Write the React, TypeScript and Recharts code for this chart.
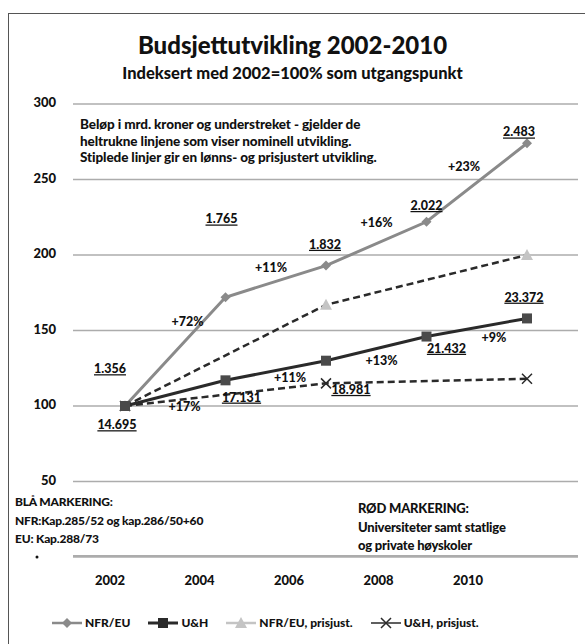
import { CartesianGrid, LabelList, Line, LineChart, XAxis, YAxis } from 'recharts'

const YEARS = ['2002', '2004', '2006', '2008', '2010']
const NFR_EU = [100, 172, 193, 222, 274]
const UH = [100, 117, 130, 146, 158]
const NFR_EU_PRIS = [100, null, 167, null, 200]
const UH_PRIS = [100, null, 115, null, 118]
const NFR_EU_MRD = ['1.356', '1.765', '1.832', '2.022', '2.483']
const UH_MRD = ['14.695', '17.131', '18.981', '21.432', '23.372']
const NFR_EU_GROWTH = ['', '+72%', '+11%', '+16%', '+23%']
const UH_GROWTH = ['', '+17%', '+11%', '+13%', '+9%']
const Y_TICKS = [0, 50, 100, 150, 200, 250, 300]

const data = YEARS.map((year, i) => ({
  year,
  nfr: NFR_EU[i],
  uh: UH[i],
  nfrPris: NFR_EU_PRIS[i],
  uhPris: UH_PRIS[i],
  nfrMrd: NFR_EU_MRD[i],
  uhMrd: UH_MRD[i],
  nfrGrowth: NFR_EU_GROWTH[i],
  uhGrowth: UH_GROWTH[i],
}))

const FONT = 'Lato, "Open Sans", sans-serif'
const GREY = '#8a8a8a'
const DARK = '#2a2a2a'
const LIGHT = '#c4c4c4'
const GRID = '#acacac'

// label offsets from each point (styling only)
const NFR_MRD_OFF = [[-15, -36], [-4, -77], [-1, -20], [0, -15], [-8, -10]]
const NFR_PCT_OFF = [[0, 0], [-38, 26], [-55, 3], [-50, 2], [-63, 25]]
const UH_MRD_OFF = [[-8, 20], [16, 18], [25, 30], [20, 13], [-3, -20]]
const UH_PCT_OFF = [[0, 0], [-41, 27], [-36, 18], [-45, 25], [-33, 20]]

const offsetLabel = (offsets: number[][], underline: boolean) => (p: any) => {
  const { x, y, value, index } = p
  if (!value || x == null || y == null) return null
  const [dx, dy] = offsets[index] || [0, 0]
  return (
    <text
      x={x + dx}
      y={y + dy}
      textAnchor="middle"
      dominantBaseline="middle"
      fontFamily={FONT}
      fontWeight={900}
      fontSize={12.5}
      fill="#111"
      textDecoration={underline ? 'underline' : undefined}
    >
      {value}
    </text>
  )
}

const Diamond = ({ cx, cy, fill }: any) => (
  <polygon points={`${cx},${cy - 5} ${cx + 5},${cy} ${cx},${cy + 5} ${cx - 5},${cy}`} fill={fill} />
)
const Square = ({ cx, cy, fill }: any) => <rect x={cx - 5} y={cy - 5} width={10} height={10} fill={fill} />
const Triangle = ({ cx, cy, fill }: any) => (
  <polygon points={`${cx},${cy - 6} ${cx + 6},${cy + 5} ${cx - 6},${cy + 5}`} fill={fill} />
)
const Cross = ({ cx, cy, stroke }: any) => (
  <path d={`M${cx - 5},${cy - 5}L${cx + 5},${cy + 5}M${cx + 5},${cy - 5}L${cx - 5},${cy + 5}`} stroke={stroke} strokeWidth={1.5} />
)

const dotWith = (Shape: any, color: string) => (p: any) => {
  if (p.value == null || p.cy == null) return <g key={p.index} />
  return <Shape key={p.index} cx={p.cx} cy={p.cy} fill={color} stroke={color} />
}

const XTick = ({ x, payload, index }: any) => (
  <text x={x - 15 - index * 11} y={582} textAnchor="middle" dominantBaseline="middle" fontFamily={FONT} fontWeight={900} fontSize={13} fill="#111">
    {payload.value}
  </text>
)

// the 0 tick label is hidden behind the note box in the original, only a speck shows
const YTick = ({ y, payload }: any) =>
  payload.value === 0 ? (
    <circle cx={37} cy={y} r={1.5} fill="#111" />
  ) : (
    <text x={56} y={y} textAnchor="end" dominantBaseline="middle" fontFamily={FONT} fontWeight={900} fontSize={13} fill="#111">
      {payload.value}
    </text>
  )

const LEGEND = [
  { label: 'NFR/EU', line: GREY, Shape: Diamond, mark: GREY, width: 2.5 },
  { label: 'U&H', line: DARK, Shape: Square, mark: DARK, width: 3 },
  { label: 'NFR/EU, prisjust.', line: LIGHT, Shape: Triangle, mark: LIGHT, width: 2.5 },
  { label: 'U&H, prisjust.', line: DARK, Shape: Cross, mark: DARK, width: 1.5 },
]

const textStyle = { position: 'absolute' as const, fontFamily: FONT, fontWeight: 900, color: '#111', whiteSpace: 'nowrap' as const }

export default function App() {
  return (
    <div style={{ position: 'absolute', left: 0, top: 0, width: 585, height: 644, background: '#fff', overflow: 'hidden' }}>
      <div style={{ position: 'absolute', left: 8, top: 13, width: 580, height: 640, borderTop: '1.5px solid #555', borderLeft: '1.5px solid #555' }} />
      <LineChart width={585} height={644} data={data} margin={{ top: 104, right: 7, bottom: 57, left: 0 }}>
        <CartesianGrid vertical={false} stroke={GRID} strokeWidth={1.5} />
        <XAxis dataKey="year" axisLine={false} tickLine={false} tick={<XTick />} interval={0} height={30} padding={{ left: 52, right: 51 }} />
        <YAxis domain={[0, 300]} ticks={Y_TICKS} axisLine={false} tickLine={false} width={73} tick={<YTick />} />
        <Line dataKey="nfrPris" stroke={DARK} strokeWidth={2.5} strokeDasharray="7 4" connectNulls dot={dotWith(Triangle, LIGHT)} isAnimationActive={false} />
        <Line dataKey="uhPris" stroke={DARK} strokeWidth={2.5} strokeDasharray="7 4" connectNulls dot={dotWith(Cross, DARK)} isAnimationActive={false} />
        <Line dataKey="nfr" stroke={GREY} strokeWidth={3} dot={dotWith(Diamond, GREY)} isAnimationActive={false}>
          <LabelList dataKey="nfrMrd" content={offsetLabel(NFR_MRD_OFF, true)} />
          <LabelList dataKey="nfrGrowth" content={offsetLabel(NFR_PCT_OFF, false)} />
        </Line>
        <Line dataKey="uh" stroke={DARK} strokeWidth={3} dot={dotWith(Square, '#4a4a4a')} isAnimationActive={false}>
          <LabelList dataKey="uhMrd" content={offsetLabel(UH_MRD_OFF, true)} />
          <LabelList dataKey="uhGrowth" content={offsetLabel(UH_PCT_OFF, false)} />
        </Line>
      </LineChart>
      <div style={{ position: 'absolute', zIndex: 2, left: 73, top: 555, width: 505, height: 2, background: GRID }} />
      <div style={{ position: 'absolute', left: 52, top: 615, display: 'flex', gap: 18, fontFamily: FONT, fontWeight: 900, fontSize: 12, color: '#111' }}>
        {LEGEND.map((l) => (
          <div key={l.label} style={{ display: 'flex', alignItems: 'center', gap: 3 }}>
            <svg width={30} height={12}>
              <line x1={0} y1={6} x2={30} y2={6} stroke={l.line} strokeWidth={l.width} />
              <l.Shape cx={15} cy={6} fill={l.mark} stroke={l.mark} />
            </svg>
            <span>{l.label}</span>
          </div>
        ))}
      </div>
      <div style={{ ...textStyle, left: 0, width: 585, top: 30, textAlign: 'center', fontSize: 24 }}>Budsjettutvikling 2002-2010</div>
      <div style={{ ...textStyle, left: 0, width: 585, top: 63, textAlign: 'center', fontSize: 16.5 }}>Indeksert med 2002=100% som utgangspunkt</div>
      <div style={{ ...textStyle, left: 80, top: 116, fontSize: 13.5, lineHeight: '16.5px', letterSpacing: -0.1 }}>
        Beløp i mrd. kroner og understreket - gjelder de
        <br />
        heltrukne linjene som viser nominell utvikling.
        <br />
        Stiplede linjer gir en lønns- og prisjustert utvikling.
      </div>
      <div style={{ ...textStyle, left: 15, top: 493, fontSize: 12, lineHeight: '18.5px', letterSpacing: -0.2 }}>
        BLÅ MARKERING:
        <br />
        NFR:Kap.285/52 og kap.286/50+60
        <br />
        EU: Kap.288/73
      </div>
      <div style={{ ...textStyle, left: 358, top: 499, fontSize: 13, lineHeight: '18.5px', letterSpacing: -0.2 }}>
        RØD MARKERING:
        <br />
        Universiteter samt statlige
        <br />
        og private høyskoler
      </div>
    </div>
  )
}
